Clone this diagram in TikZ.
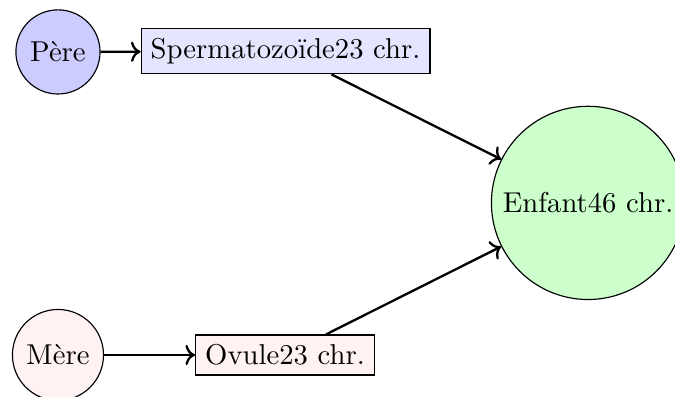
\documentclass[tikz,border=0pt]{standalone}
\usetikzlibrary{arrows.meta}
\tikzset{
  person/.style={circle,draw,thin},
  cell/.style={rectangle,draw,thin},
  link/.style={->,thick}
}
\begin{document}
\begin{tikzpicture}[x=1pt,y=1pt]
\useasboundingbox (0,0) rectangle (235.2,-138.3);
\clip (0,0) rectangle (235.2,-138.3);
\node[person,fill=blue!20] (pere) at (20.2,-18.1) {Père};
\node[cell,fill=blue!10] (sperm) at (99.5,-17.9) {Spermatozoïde23 chr.};
\node[person,fill=green!20] (enfant) at (204.9,-70.7) {Enfant46 chr.};
\node[person,fill=red!5] (mere) at (20.2,-123.7) {Mère};
\node[cell,fill=red!5] (ovule) at (99.3,-123.7) {Ovule23 chr.};
\draw[link] (pere) -- (sperm);
\draw[link] (mere) -- (ovule);
\draw[link] (sperm) -- (enfant);
\draw[link] (ovule) -- (enfant);
\end{tikzpicture}
\end{document}
